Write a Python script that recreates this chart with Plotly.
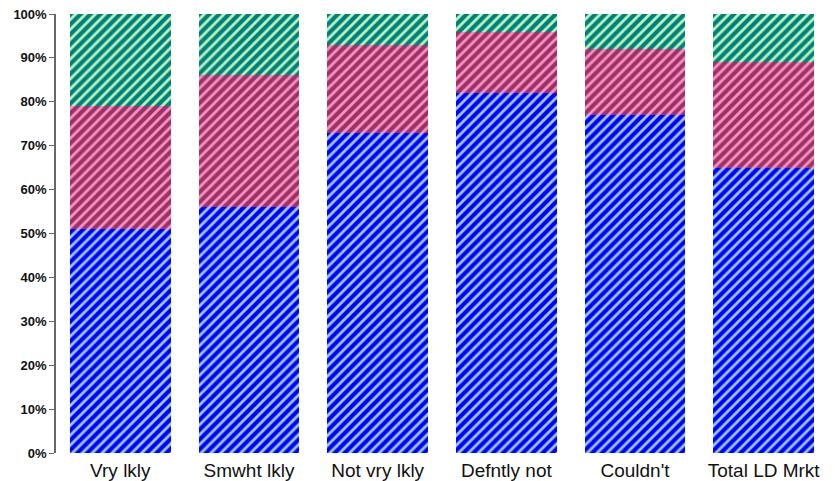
import plotly.graph_objects as go

# Share of responses per group (percent), stacked to 100%
categories = ["Vry lkly", "Smwht lkly", "Not vry lkly", "Defntly not", "Couldn't", "Total LD Mrkt"]
series_low = [51, 56, 73, 82, 77, 65]
series_mid = [28, 30, 20, 14, 15, 24]
series_high = [21, 14, 7, 4, 8, 11]

tick_values = [0, 10, 20, 30, 40, 50, 60, 70, 80, 90, 100]
tick_labels = [f"{v}%" for v in tick_values]

# (background colour, stripe colour) for each segment's hatch
styles = [
    (series_low, "#0000ff", "#99ccff"),
    (series_mid, "#993366", "#ff8fc0"),
    (series_high, "#008078", "#b8f5c0"),
]

fig = go.Figure()
for values, bg, fg in styles:
    fig.add_trace(go.Bar(
        x=categories,
        y=values,
        marker=dict(
            color=bg,
            line=dict(width=0),
            pattern=dict(shape="/", bgcolor=bg, fgcolor=fg, size=7, solidity=0.4, fillmode="replace"),
        ),
        showlegend=False,
        hoverinfo="skip",
    ))

fig.update_layout(
    barmode="stack",
    bargap=0.22,
    width=835,
    height=481,
    margin=dict(l=56, r=7, t=14, b=28, autoexpand=False),
    paper_bgcolor="white",
    plot_bgcolor="white",
    showlegend=False,
)
fig.update_yaxes(
    range=[0, 100],
    tickmode="array",
    tickvals=tick_values,
    ticktext=tick_labels,
    showgrid=False,
    zeroline=False,
    showline=True,
    linecolor="#666666",
    linewidth=1.5,
    ticks="outside",
    ticklen=5,
    tickcolor="#666666",
    tickfont=dict(family="Arial, Liberation Sans", size=13, color="#111111", weight="bold"),
    automargin=False,
)
fig.update_xaxes(
    showgrid=False,
    showline=False,
    ticks="",
    ticklabelstandoff=4,
    tickfont=dict(family="Arial, Liberation Sans", size=19, color="#111111"),
    automargin=False,
)

fig.write_html("out.html")
